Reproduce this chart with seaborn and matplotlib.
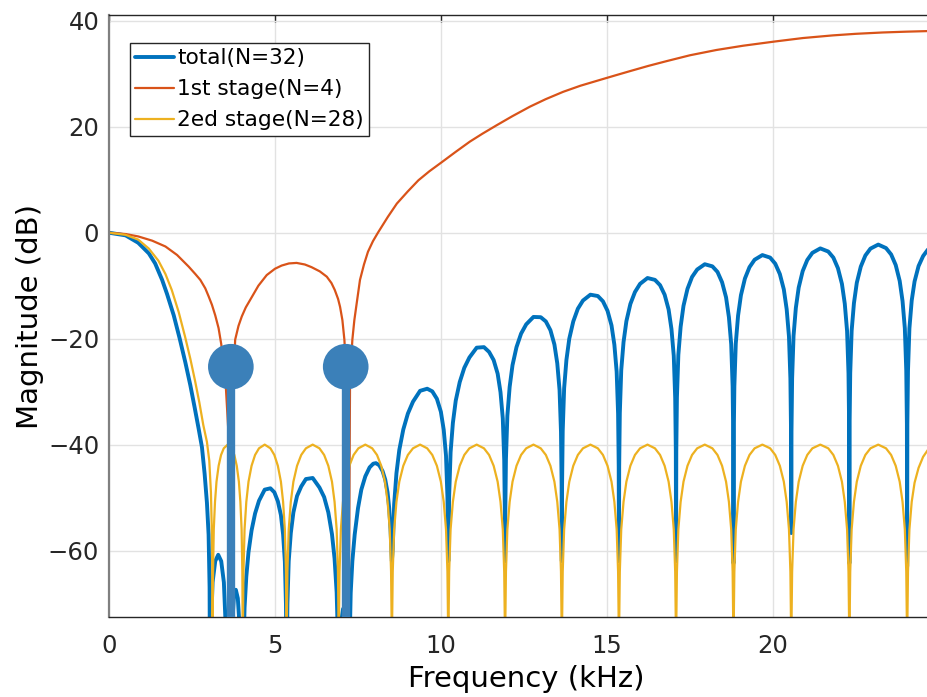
import matplotlib
matplotlib.use("Agg")
import matplotlib.pyplot as plt
import seaborn as sns

# %% values (frequency in kHz, magnitude in dB)
# total response (N=32)
total_khz = [
    0, 0.5, 0.88, 1.2, 1.39, 1.6, 1.75, 1.95, 2.13, 2.3, 2.45, 2.58, 2.7, 2.8, 2.88, 2.95, 3.0, 3.03, 3.05,
    3.07, 3.12, 3.2, 3.29, 3.38, 3.46, 3.52, 3.56,
    3.68, 3.72, 3.76, 3.82, 3.88, 3.92, 3.99,
    4.035, 4.05, 4.083, 4.136, 4.202, 4.294, 4.4, 4.518, 4.69, 4.862, 4.98, 5.086, 5.178, 5.244, 5.297, 5.33, 5.345, 5.35,
    5.356, 5.374, 5.413, 5.476, 5.554, 5.664, 5.79, 5.931, 6.135, 6.339, 6.48, 6.606, 6.716, 6.794, 6.857, 6.896, 6.914, 6.92,
    6.98, 7.05, 7.12, 7.2,
    7.24, 7.28, 7.33, 7.4, 7.5, 7.6, 7.72, 7.85, 7.96, 8.04, 8.14, 8.24, 8.32, 8.39, 8.44, 8.48, 8.5, 8.52,
    8.546, 8.589, 8.658, 8.744, 8.864, 9.002, 9.156, 9.37, 9.584, 9.738, 9.876, 9.996, 10.082, 10.151, 10.194, 10.213, 10.22,
    10.227, 10.246, 10.289, 10.358, 10.444, 10.564, 10.702, 10.856, 11.075, 11.294, 11.448, 11.586, 11.706, 11.792, 11.861, 11.904, 11.923, 11.93,
    11.937, 11.956, 11.999, 12.068, 12.154, 12.274, 12.412, 12.566, 12.785, 13.004, 13.158, 13.296, 13.416, 13.502, 13.571, 13.614, 13.633, 13.64,
    13.647, 13.666, 13.709, 13.778, 13.864, 13.984, 14.122, 14.276, 14.5, 14.724, 14.878, 15.016, 15.136, 15.222, 15.291, 15.334, 15.353, 15.36,
    15.367, 15.386, 15.429, 15.498, 15.584, 15.704, 15.842, 15.996, 16.22, 16.444, 16.598, 16.736, 16.856, 16.942, 17.011, 17.054, 17.073, 17.08,
    17.087, 17.106, 17.149, 17.218, 17.304, 17.424, 17.562, 17.716, 17.945, 18.174, 18.328, 18.466, 18.586, 18.672, 18.741, 18.784, 18.803, 18.81,
    18.817, 18.836, 18.879, 18.948, 19.034, 19.154, 19.292, 19.446, 19.68, 19.914, 20.068, 20.206, 20.326, 20.412, 20.481, 20.524, 20.543, 20.55,
    20.557, 20.576, 20.619, 20.688, 20.774, 20.894, 21.032, 21.186, 21.425, 21.664, 21.818, 21.956, 22.076, 22.162, 22.231, 22.274, 22.293, 22.3,
    22.307, 22.326, 22.369, 22.438, 22.524, 22.644, 22.782, 22.936, 23.17, 23.404, 23.558, 23.696, 23.816, 23.902, 23.971, 24.014, 24.033, 24.04,
    24.047, 24.066, 24.109, 24.178, 24.264, 24.384, 24.522, 24.676, 24.91, 25.144, 25.298,
]
total_db = [
    0, -0.5, -1.9, -3.9, -5.8, -8.9, -11.6, -15.6, -20.0, -24.5, -28.8, -33.0, -37.0, -40.5, -45.5, -51.0, -57.0, -67.0, -100,
    -75, -66, -62, -60.8, -62, -66, -75, -100,
    -100, -73, -69, -67.4, -69, -73, -100,
    -89.4, -79.2, -70.8, -64.9, -60.3, -56.2, -53.0, -50.6, -48.5, -48.25, -49.0, -50.7, -53.3, -56.95, -62.1, -70.1, -80.0, -100,
    -80.0, -70.0, -62.0, -56.7, -52.8, -49.7, -47.9, -46.5, -46.3, -48.1, -49.9, -52.8, -56.9, -61.5, -67.9, -76.7, -87.1, -100,
    -74, -71, -76, -100,
    -80, -68, -62, -57, -52, -48.5, -46.0, -44.3, -43.6, -43.5, -43.9, -45.0, -46.6, -49.0, -52.0, -56.0, -59.0, -62,
    -59.7, -51.25, -45.4, -41.0, -37.15, -34.15, -31.9, -29.85, -29.45, -29.95, -31.35, -33.8, -37.2, -42.1, -49.9, -59.8, -62,
    -59.7, -49.65, -41.45, -35.9, -31.7, -28.2, -25.5, -23.55, -21.7, -21.6, -22.5, -24.05, -26.6, -30.1, -35.05, -42.9, -52.8, -62,
    -52.8, -42.7, -34.55, -29.1, -25.0, -21.6, -19.05, -17.3, -15.9, -15.95, -16.75, -18.4, -21.1, -24.65, -29.7, -37.55, -47.5, -62,
    -47.5, -37.45, -29.35, -24.0, -20.0, -16.75, -14.35, -12.8, -11.7, -11.95, -12.95, -14.75, -17.5, -21.15, -26.25, -34.15, -44.1, -62,
    -44.1, -34.05, -25.95, -20.65, -16.7, -13.45, -11.2, -9.65, -8.55, -8.9, -9.9, -11.7, -14.5, -18.2, -23.25, -31.2, -41.15, -62,
    -41.15, -31.1, -23.05, -17.75, -13.8, -10.6, -8.35, -6.95, -5.95, -6.35, -7.4, -9.35, -12.2, -15.95, -21.05, -29.0, -39.0, -62.4,
    -39.0, -29.0, -20.9, -15.65, -11.8, -8.65, -6.5, -5.1, -4.22, -4.7, -5.85, -7.8, -10.7, -14.45, -19.6, -27.55, -37.5, -56.7,
    -37.5, -27.5, -19.45, -14.2, -10.35, -7.25, -5.15, -3.8, -2.96, -3.55, -4.7, -6.7, -9.65, -13.4, -18.55, -26.55, -36.55, -62.4,
    -36.5, -26.5, -18.5, -13.3, -9.45, -6.4, -4.3, -3.0, -2.24, -2.9, -4.1, -6.1, -9.1, -12.9, -18.05, -26.05, -36.05, -63,
    -36.05, -26.05, -18.05, -12.8, -9.2, -6.3, -4.4, -3.1, -2.2, -2.8, -4.0,
]

# 1st stage (N=4)
stage1_khz = [
    0, 0.5, 0.88, 1.3, 1.7, 2.05, 2.4, 2.6, 2.75, 2.9, 3.0, 3.1, 3.2, 3.3, 3.38, 3.5, 3.6, 3.65, 3.7, 3.75, 3.8,
    3.9, 4.0, 4.12, 4.25, 4.5, 4.75, 5.0, 5.2, 5.42, 5.65, 5.9, 6.1, 6.35, 6.56, 6.7, 6.8, 6.9, 6.96, 7.03, 7.09,
    7.16, 7.2, 7.26, 7.33, 7.39, 7.45, 7.56, 7.68, 7.8, 7.95, 8.1, 8.4, 8.67, 9.0, 9.32, 9.65, 10.02, 10.45,
    10.87, 11.25, 11.68, 12.15, 12.68, 13.15, 13.68, 14.2, 14.79, 15.25, 15.69, 16.25, 16.8, 17.5, 18.3, 19.1,
    20.06, 20.9, 21.8, 22.5, 23.3, 24.0, 24.64, 25.5,
]
stage1_db = [
    0, -0.25, -0.7, -1.5, -2.6, -4.2, -6.4, -7.8, -8.9, -10.5, -12.0, -13.6, -15.6, -18.0, -21.0, -27, -38, -100, -38, -28, -20.2,
    -17.6, -15.8, -14.1, -12.7, -10.0, -8.0, -6.8, -6.2, -5.8, -5.7, -6.0, -6.5, -7.3, -8.3, -9.5, -10.8, -12.5, -14.0, -16.5, -20.2,
    -28, -100, -28, -20.2, -16.5, -13.8, -8.9, -6.0, -3.6, -1.6, 0, 3.0, 5.5, 7.8, 9.9, 11.6, 13.3, 15.3,
    17.2, 18.7, 20.3, 22.0, 23.8, 25.2, 26.6, 27.75, 28.85, 29.7, 30.5, 31.5, 32.4, 33.5, 34.5, 35.3,
    36.1, 36.75, 37.25, 37.55, 37.8, 37.95, 38.06, 38.15,
]

# 2ed stage (N=28)
stage2_khz = [
    0, 0.5, 0.88, 1.2, 1.49, 1.7, 1.89, 2.1, 2.29, 2.45, 2.59, 2.72, 2.84, 2.95, 3.02, 3.07, 3.1, 3.115, 3.12,
    3.124, 3.134, 3.156, 3.193, 3.238, 3.302, 3.375, 3.457, 3.575, 3.693, 3.775, 3.848, 3.912, 3.957, 3.994, 4.016, 4.026, 4.03,
    4.035, 4.05, 4.083, 4.136, 4.202, 4.294, 4.4, 4.518, 4.69, 4.862, 4.98, 5.086, 5.178, 5.244, 5.297, 5.33, 5.345, 5.35,
    5.356, 5.374, 5.413, 5.476, 5.554, 5.664, 5.79, 5.931, 6.135, 6.339, 6.48, 6.606, 6.716, 6.794, 6.857, 6.896, 6.914, 6.92,
    6.926, 6.944, 6.984, 7.048, 7.128, 7.24, 7.368, 7.512, 7.72, 7.928, 8.072, 8.2, 8.312, 8.392, 8.456, 8.496, 8.514, 8.52,
    8.527, 8.546, 8.589, 8.658, 8.744, 8.864, 9.002, 9.156, 9.37, 9.584, 9.738, 9.876, 9.996, 10.082, 10.151, 10.194, 10.213, 10.22,
    10.227, 10.246, 10.289, 10.358, 10.444, 10.564, 10.702, 10.856, 11.075, 11.294, 11.448, 11.586, 11.706, 11.792, 11.861, 11.904, 11.923, 11.93,
    11.937, 11.956, 11.999, 12.068, 12.154, 12.274, 12.412, 12.566, 12.785, 13.004, 13.158, 13.296, 13.416, 13.502, 13.571, 13.614, 13.633, 13.64,
    13.647, 13.666, 13.709, 13.778, 13.864, 13.984, 14.122, 14.276, 14.5, 14.724, 14.878, 15.016, 15.136, 15.222, 15.291, 15.334, 15.353, 15.36,
    15.367, 15.386, 15.429, 15.498, 15.584, 15.704, 15.842, 15.996, 16.22, 16.444, 16.598, 16.736, 16.856, 16.942, 17.011, 17.054, 17.073, 17.08,
    17.087, 17.106, 17.149, 17.218, 17.304, 17.424, 17.562, 17.716, 17.945, 18.174, 18.328, 18.466, 18.586, 18.672, 18.741, 18.784, 18.803, 18.81,
    18.817, 18.836, 18.879, 18.948, 19.034, 19.154, 19.292, 19.446, 19.68, 19.914, 20.068, 20.206, 20.326, 20.412, 20.481, 20.524, 20.543, 20.55,
    20.557, 20.576, 20.619, 20.688, 20.774, 20.894, 21.032, 21.186, 21.425, 21.664, 21.818, 21.956, 22.076, 22.162, 22.231, 22.274, 22.293, 22.3,
    22.307, 22.326, 22.369, 22.438, 22.524, 22.644, 22.782, 22.936, 23.17, 23.404, 23.558, 23.696, 23.816, 23.902, 23.971, 24.014, 24.033, 24.04,
    24.047, 24.066, 24.109, 24.178, 24.264, 24.384, 24.522, 24.676, 24.91, 25.144, 25.298,
]
stage2_db = [
    0, -0.4, -1.3, -3.0, -5.3, -7.8, -10.8, -15.0, -19.6, -23.8, -27.9, -32.0, -36.3, -39.5, -43.0, -49.0, -57.0, -68.0, -100,
    -74, -64, -56, -50.8, -47.0, -44.0, -41.95, -40.7, -40, -40.7, -41.95, -44.0, -47.0, -50.8, -56, -64, -74, -100,
    -74, -64, -56, -50.8, -47.0, -44.0, -41.95, -40.7, -40, -40.7, -41.95, -44.0, -47.0, -50.8, -56, -64, -74, -100,
    -74, -64, -56, -50.8, -47.0, -44.0, -41.95, -40.7, -40, -40.7, -41.95, -44.0, -47.0, -50.8, -56, -64, -74, -100,
    -74, -64, -56, -50.8, -47.0, -44.0, -41.95, -40.7, -40, -40.7, -41.95, -44.0, -47.0, -50.8, -56, -64, -74, -100,
    -74, -64, -56, -50.8, -47.0, -44.0, -41.95, -40.7, -40, -40.7, -41.95, -44.0, -47.0, -50.8, -56, -64, -74, -100,
    -74, -64, -56, -50.8, -47.0, -44.0, -41.95, -40.7, -40, -40.7, -41.95, -44.0, -47.0, -50.8, -56, -64, -74, -100,
    -74, -64, -56, -50.8, -47.0, -44.0, -41.95, -40.7, -40, -40.7, -41.95, -44.0, -47.0, -50.8, -56, -64, -74, -100,
    -74, -64, -56, -50.8, -47.0, -44.0, -41.95, -40.7, -40, -40.7, -41.95, -44.0, -47.0, -50.8, -56, -64, -74, -100,
    -74, -64, -56, -50.8, -47.0, -44.0, -41.95, -40.7, -40, -40.7, -41.95, -44.0, -47.0, -50.8, -56, -64, -74, -100,
    -74, -64, -56, -50.8, -47.0, -44.0, -41.95, -40.7, -40, -40.7, -41.95, -44.0, -47.0, -50.8, -56, -64, -74, -100,
    -74, -64, -56, -50.8, -47.0, -44.0, -41.95, -40.7, -40, -40.7, -41.95, -44.0, -47.0, -50.8, -56, -64, -74, -100,
    -74, -64, -56, -50.8, -47.0, -44.0, -41.95, -40.7, -40, -40.7, -41.95, -44.0, -47.0, -50.8, -56, -64, -74, -100,
    -74, -64, -56, -50.8, -47.0, -44.0, -41.95, -40.7, -40, -40.7, -41.95, -44.0, -47.0, -50.8, -56, -64, -74, -100,
    -74, -64, -56, -50.8, -47.2, -44.4, -42.3, -40.9, -40.1, -40.7, -42.0,
]

# stem markers at the 1st stage notches
stem_khz = [3.67, 7.13]
stem_db = [-25.3, -25.3]

series_labels = ["total(N=32)", "1st stage(N=4)", "2ed stage(N=28)"]
x_ticks = [0, 5, 10, 15, 20]
y_ticks = [-60, -40, -20, 0, 20, 40]

# %% style
sns.set_theme(style="white")
plt.rcParams['font.family'] = ['DejaVu Sans']
plt.rcParams['axes.unicode_minus'] = True

fig = plt.figure(figsize=(9.27, 6.97), dpi=100)
# axes run past the right edge of the picture, as in the cropped original
x_max = 25.15
ax = fig.add_axes([109 / 927, 79.7 / 697, x_max * 33.2 / 927, 602.3 / 697])

sns.lineplot(x=total_khz, y=total_db, ax=ax, color="#0072BD", linewidth=2.8,
             label=series_labels[0], estimator=None, sort=False)
sns.lineplot(x=stage1_khz, y=stage1_db, ax=ax, color="#D95319", linewidth=1.6,
             label=series_labels[1], estimator=None, sort=False)
sns.lineplot(x=stage2_khz, y=stage2_db, ax=ax, color="#EDB120", linewidth=1.6,
             label=series_labels[2], estimator=None, sort=False)

# stems
ax.vlines(stem_khz, -90, stem_db, color="#3B80B9", linewidth=6, zorder=5)
sns.scatterplot(x=stem_khz, y=stem_db, ax=ax, s=1080, color="#3B80B9",
                edgecolor="none", zorder=6, legend=False)

ax.set_xlim(0, x_max)
ax.set_ylim(-72.6, 41.1)
ax.set_xticks(x_ticks)
ax.set_yticks(y_ticks)
ax.grid(True, color="#e2e2e2", linewidth=1.0)
ax.set_axisbelow(True)

ax.tick_params(direction="in", length=5, width=1, top=True, right=True,
               labelsize=17.5, colors="#262626")
ax.tick_params(axis="x", pad=12)
ax.tick_params(axis="y", pad=7)
for side in ["top", "bottom", "right"]:
    ax.spines[side].set_color("#262626")
    ax.spines[side].set_linewidth(1.0)
ax.spines["left"].set_color("#808080")
ax.spines["left"].set_linewidth(1.6)

ax.set_xlabel("Frequency (kHz)", fontsize=21, color="#000000", labelpad=5)
ax.set_ylabel("Magnitude (dB)", fontsize=21, color="#000000", labelpad=3)

leg = ax.legend(loc="upper left", bbox_to_anchor=(0.0248, 0.9535), borderaxespad=0,
                fontsize=15.6, frameon=True, fancybox=False, edgecolor="#262626",
                framealpha=1, handlelength=1.8, handletextpad=0.15,
                labelspacing=0.5, borderpad=0.25)
leg.get_frame().set_linewidth(1.0)
for t in leg.get_texts():
    t.set_color("#000000")

fig.savefig("out.png", dpi=100)
